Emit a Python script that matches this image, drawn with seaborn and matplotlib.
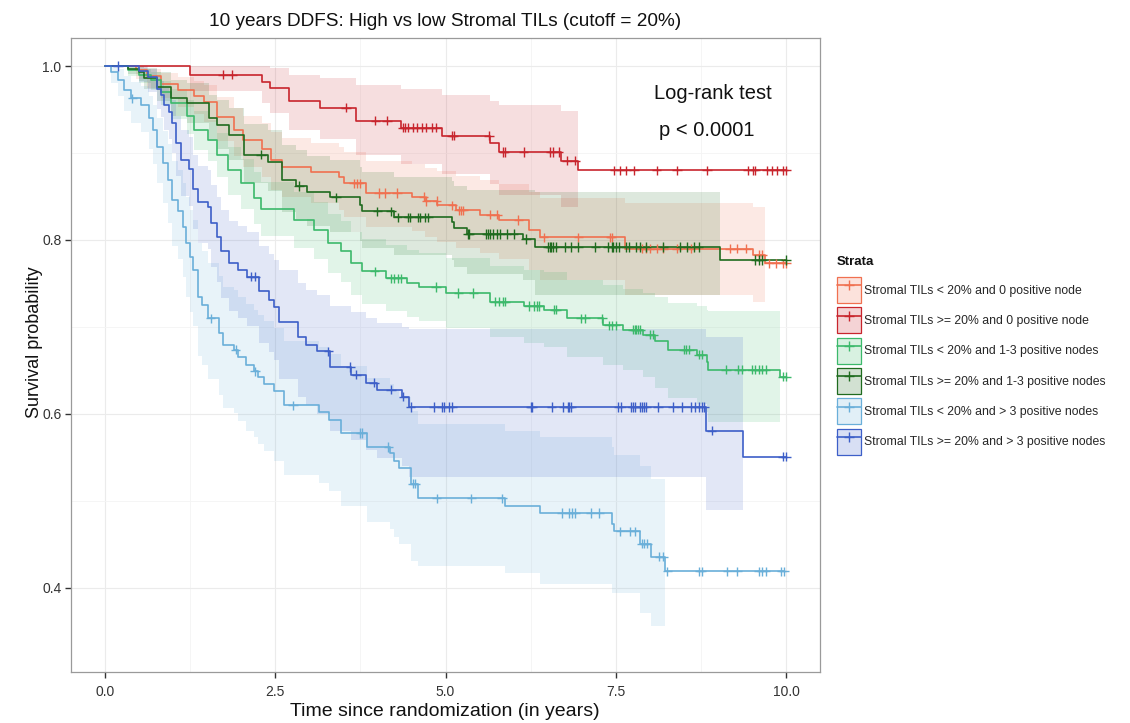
import numpy as np
import pandas as pd
import matplotlib
matplotlib.use("Agg")
import matplotlib.pyplot as plt
from matplotlib.patches import Patch
from matplotlib.lines import Line2D
from matplotlib.ticker import MultipleLocator
import seaborn as sns

# ---------------- data ----------------
strata = [
    "Stromal TILs < 20% and 0 positive node",
    "Stromal TILs >= 20% and 0 positive node",
    "Stromal TILs < 20% and 1-3 positive nodes",
    "Stromal TILs >= 20% and 1-3 positive nodes",
    "Stromal TILs < 20% and > 3 positive nodes",
    "Stromal TILs >= 20% and > 3 positive nodes",
]
colors = ["#F07050", "#C8252D", "#3CB96B", "#1F6B1F", "#6AAFD9", "#3D5FC8"]

# 1: < 20%, 0 node
t_lo0 = [0, 0.45, 0.62, 0.82, 1.07, 1.30, 1.46, 1.65, 1.89, 2.02, 2.31, 2.43, 2.60, 3.02, 3.43, 3.51,
         3.83, 4.51, 4.70, 4.88, 5.15, 5.51, 5.78, 6.22, 6.39, 7.64, 9.52, 9.69]
s_lo0 = [1.0, 0.995, 0.988, 0.979, 0.972, 0.966, 0.959, 0.941, 0.926, 0.915, 0.905, 0.892, 0.884, 0.878,
         0.872, 0.865, 0.854, 0.850, 0.845, 0.840, 0.834, 0.829, 0.823, 0.812, 0.803, 0.790, 0.783, 0.773]
l_lo0 = [1.0, 0.985, 0.975, 0.963, 0.953, 0.945, 0.936, 0.914, 0.897, 0.884, 0.872, 0.858, 0.849, 0.842,
         0.835, 0.827, 0.815, 0.810, 0.804, 0.798, 0.791, 0.785, 0.778, 0.765, 0.754, 0.737, 0.729, 0.715]
u_lo0 = [1.0, 1.0, 0.997, 0.992, 0.987, 0.983, 0.978, 0.964, 0.952, 0.943, 0.935, 0.924, 0.917, 0.912,
         0.907, 0.901, 0.891, 0.887, 0.883, 0.879, 0.874, 0.869, 0.864, 0.855, 0.848, 0.843, 0.838, 0.830]
c_lo0 = [3.65, 3.70, 3.74, 4.02, 4.11, 4.29, 4.68, 4.72, 4.87, 5.10, 5.20, 5.23, 5.26, 5.66, 5.76, 6.07,
         6.44, 6.95, 7.42, 7.44, 7.88, 7.95, 8.00, 8.10, 8.20, 8.40, 8.60, 9.18, 9.28, 9.42, 9.60, 9.65,
         9.75, 9.85, 9.95, 10.0]

# 2: >= 20%, 0 node
t_hi0 = [0, 1.25, 2.30, 2.42, 2.70, 3.15, 3.68, 4.34, 4.95, 5.66, 5.78, 6.70, 6.95]
s_hi0 = [1.0, 0.990, 0.982, 0.975, 0.960, 0.952, 0.937, 0.929, 0.920, 0.911, 0.901, 0.891, 0.880]
l_hi0 = [1.0, 0.971, 0.957, 0.946, 0.927, 0.916, 0.898, 0.887, 0.876, 0.864, 0.852, 0.838, 0.820]
u_hi0 = [1.0, 1.0, 1.0, 0.998, 0.990, 0.986, 0.978, 0.973, 0.967, 0.960, 0.955, 0.948, 0.940]
c_hi0 = [1.73, 1.87, 3.54, 3.97, 4.14, 4.37, 4.40, 4.45, 4.52, 4.58, 4.65, 4.72, 4.80, 4.86, 5.09, 5.12,
         5.64, 5.85, 5.87, 6.15, 6.54, 6.58, 6.66, 6.78, 6.90, 7.48, 7.57, 7.65, 7.77, 8.10, 8.40, 8.84,
         9.44, 9.52, 9.55, 9.72, 9.80, 9.87, 9.96, 10.0]

# 3: < 20%, 1-3 nodes
t_lo13 = [0, 0.33, 0.50, 0.67, 0.82, 0.97, 1.21, 1.31, 1.51, 1.65, 1.80, 2.00, 2.19, 2.29, 2.77, 3.07,
          3.27, 3.46, 3.61, 3.78, 4.12, 4.44, 4.61, 5.00, 5.66, 6.15, 6.44, 6.78, 7.32, 7.61, 7.90, 8.08,
          8.27, 8.69, 8.84, 8.86, 9.91]
s_lo13 = [1.0, 0.995, 0.990, 0.984, 0.970, 0.957, 0.942, 0.926, 0.915, 0.898, 0.880, 0.865, 0.848, 0.836,
          0.823, 0.811, 0.796, 0.787, 0.773, 0.764, 0.756, 0.750, 0.746, 0.739, 0.729, 0.724, 0.720, 0.710,
          0.702, 0.697, 0.691, 0.684, 0.674, 0.668, 0.660, 0.651, 0.643]
l_lo13 = [1.0, 0.988, 0.980, 0.972, 0.955, 0.939, 0.922, 0.904, 0.891, 0.872, 0.852, 0.836, 0.818, 0.805,
          0.791, 0.778, 0.762, 0.752, 0.737, 0.727, 0.718, 0.712, 0.707, 0.699, 0.688, 0.682, 0.677, 0.666,
          0.656, 0.650, 0.643, 0.630, 0.618, 0.611, 0.602, 0.591, 0.580]
u_lo13 = [1.0, 1.0, 0.997, 0.993, 0.983, 0.973, 0.961, 0.948, 0.938, 0.923, 0.907, 0.893, 0.878, 0.867,
          0.855, 0.844, 0.830, 0.822, 0.809, 0.801, 0.794, 0.788, 0.785, 0.779, 0.770, 0.766, 0.763, 0.754,
          0.748, 0.744, 0.739, 0.734, 0.728, 0.724, 0.720, 0.718, 0.710]
c_lo13 = [3.96, 4.20, 4.25, 4.30, 4.35, 4.86, 5.19, 5.41, 5.72, 5.78, 5.85, 5.88, 6.22, 6.30, 6.35, 6.38,
          6.60, 6.63, 6.99, 7.05, 7.30, 7.40, 7.45, 7.50, 7.75, 7.78, 7.80, 7.83, 7.86, 8.00, 8.05, 8.50,
          8.53, 8.58, 8.72, 8.76, 9.12, 9.30, 9.35, 9.50, 9.55, 9.60, 9.65, 9.70, 9.95, 10.0]

# 4: >= 20%, 1-3 nodes
t_hi13 = [0, 0.33, 0.50, 0.57, 0.77, 0.97, 1.21, 1.53, 1.65, 1.82, 2.04, 2.39, 2.60, 2.80, 2.97, 3.31,
          3.75, 3.78, 4.24, 5.10, 5.12, 5.32, 6.14, 6.32, 9.03]
s_hi13 = [1.0, 0.997, 0.993, 0.986, 0.976, 0.963, 0.957, 0.940, 0.932, 0.921, 0.898, 0.890, 0.869, 0.862,
          0.855, 0.849, 0.840, 0.833, 0.826, 0.821, 0.814, 0.807, 0.801, 0.792, 0.777]
l_hi13 = [1.0, 0.991, 0.983, 0.973, 0.960, 0.943, 0.935, 0.914, 0.905, 0.892, 0.866, 0.856, 0.832, 0.824,
          0.816, 0.809, 0.799, 0.791, 0.783, 0.777, 0.769, 0.761, 0.754, 0.737, 0.720]
u_hi13 = [1.0, 1.0, 1.0, 0.998, 0.993, 0.984, 0.980, 0.967, 0.961, 0.952, 0.933, 0.926, 0.909, 0.903,
          0.897, 0.892, 0.884, 0.878, 0.872, 0.868, 0.862, 0.857, 0.858, 0.855, 0.840]
c_hi13 = [2.29, 2.85, 3.39, 4.00, 4.20, 4.30, 4.45, 4.48, 4.60, 4.62, 4.70, 4.75, 5.33, 5.35, 5.60, 5.62,
          5.65, 5.70, 5.75, 5.80, 5.90, 6.00, 6.18, 6.50, 6.53, 6.55, 6.58, 6.62, 6.75, 6.85, 6.95, 7.20,
          7.38, 7.44, 7.46, 7.50, 7.55, 7.65, 7.70, 7.80, 7.85, 7.95, 8.20, 8.45, 8.55, 8.65, 8.72, 9.55,
          9.60, 9.65, 10.0]

# 5: < 20%, > 3 nodes
t_lo3 = [0, 0.09, 0.19, 0.28, 0.38, 0.53, 0.64, 0.70, 0.77, 0.85, 0.92, 0.99, 1.07, 1.14, 1.19, 1.25,
         1.29, 1.36, 1.43, 1.51, 1.68, 1.73, 1.90, 1.95, 2.07, 2.19, 2.24, 2.34, 2.48, 2.63, 3.14, 3.29,
         3.46, 3.85, 4.19, 4.25, 4.32, 4.49, 4.59, 5.88, 6.39, 7.44, 7.47, 7.85, 8.02, 8.23]
s_lo3 = [1.0, 0.993, 0.984, 0.972, 0.963, 0.955, 0.940, 0.926, 0.907, 0.888, 0.869, 0.846, 0.833, 0.815,
         0.796, 0.780, 0.766, 0.735, 0.725, 0.710, 0.693, 0.679, 0.674, 0.666, 0.656, 0.649, 0.643, 0.635,
         0.626, 0.610, 0.602, 0.593, 0.578, 0.562, 0.555, 0.546, 0.538, 0.520, 0.503, 0.494, 0.486, 0.474,
         0.465, 0.451, 0.436, 0.419]
l_lo3 = [1.0, 0.980, 0.965, 0.948, 0.935, 0.924, 0.905, 0.887, 0.865, 0.842, 0.820, 0.793, 0.778, 0.757,
         0.735, 0.717, 0.701, 0.667, 0.656, 0.640, 0.622, 0.607, 0.601, 0.592, 0.581, 0.573, 0.566, 0.557,
         0.546, 0.530, 0.521, 0.511, 0.494, 0.476, 0.468, 0.459, 0.450, 0.431, 0.425, 0.417, 0.405, 0.394,
         0.394, 0.371, 0.356, 0.340]
u_lo3 = [1.0, 1.0, 0.996, 0.988, 0.982, 0.977, 0.966, 0.955, 0.940, 0.925, 0.910, 0.891, 0.880, 0.865,
         0.849, 0.835, 0.823, 0.796, 0.787, 0.774, 0.759, 0.746, 0.742, 0.735, 0.726, 0.720, 0.714, 0.707,
         0.699, 0.684, 0.677, 0.669, 0.655, 0.641, 0.634, 0.626, 0.619, 0.603, 0.588, 0.580, 0.573, 0.562,
         0.553, 0.540, 0.525, 0.510]
c_lo3 = [0.40, 1.55, 1.92, 2.20, 2.76, 3.75, 3.78, 4.16, 4.52, 4.55, 4.87, 5.38, 5.83, 6.71, 6.81, 6.86,
         6.90, 7.13, 7.26, 7.57, 7.71, 7.79, 7.88, 7.92, 7.96, 8.14, 8.20, 8.26, 8.73, 8.76, 9.14, 9.28,
         9.60, 9.65, 9.70, 9.93, 9.97]

# 6: >= 20%, > 3 nodes
t_hi3 = [0, 0.50, 0.63, 0.77, 0.82, 0.87, 0.94, 0.99, 1.04, 1.11, 1.24, 1.29, 1.36, 1.51, 1.55, 1.65,
         1.70, 1.82, 1.95, 2.09, 2.26, 2.41, 2.48, 2.56, 2.83, 2.95, 3.12, 3.30, 3.61, 3.83, 4.00, 4.36,
         4.46, 8.83, 9.37]
s_hi3 = [1.0, 0.994, 0.987, 0.974, 0.967, 0.955, 0.947, 0.934, 0.911, 0.892, 0.882, 0.859, 0.844, 0.838,
         0.819, 0.804, 0.787, 0.773, 0.766, 0.758, 0.741, 0.731, 0.723, 0.706, 0.688, 0.679, 0.672, 0.654,
         0.645, 0.636, 0.628, 0.620, 0.608, 0.581, 0.551]
l_hi3 = [1.0, 0.982, 0.970, 0.951, 0.941, 0.926, 0.916, 0.900, 0.873, 0.851, 0.839, 0.813, 0.797, 0.790,
         0.769, 0.752, 0.733, 0.718, 0.710, 0.701, 0.682, 0.671, 0.662, 0.640, 0.620, 0.610, 0.600, 0.580,
         0.570, 0.559, 0.549, 0.540, 0.528, 0.490, 0.460]
u_hi3 = [1.0, 1.0, 0.997, 0.988, 0.983, 0.975, 0.970, 0.961, 0.943, 0.927, 0.918, 0.898, 0.885, 0.880,
         0.863, 0.850, 0.835, 0.822, 0.816, 0.809, 0.793, 0.784, 0.777, 0.765, 0.750, 0.743, 0.737, 0.724,
         0.717, 0.710, 0.705, 0.700, 0.698, 0.688, 0.660]
c_hi3 = [0.19, 2.14, 2.20, 3.28, 3.60, 3.69, 3.95, 4.20, 4.38, 4.49, 4.83, 4.95, 4.98, 5.05, 5.10, 6.25,
         6.27, 6.56, 6.73, 6.80, 6.82, 6.85, 7.54, 7.58, 7.73, 7.76, 7.79, 7.85, 7.88, 7.91, 7.95, 8.12,
         8.34, 8.47, 8.60, 8.67, 8.72, 8.76, 8.80, 8.91, 9.95, 10.0]

groups = [
    (t_lo0, s_lo0, l_lo0, u_lo0, c_lo0),
    (t_hi0, s_hi0, l_hi0, u_hi0, c_hi0),
    (t_lo13, s_lo13, l_lo13, u_lo13, c_lo13),
    (t_hi13, s_hi13, l_hi13, u_hi13, c_hi13),
    (t_lo3, s_lo3, l_lo3, u_lo3, c_lo3),
    (t_hi3, s_hi3, l_hi3, u_hi3, c_hi3),
]

x_ticks = [0.0, 2.5, 5.0, 7.5, 10.0]
y_ticks = [0.4, 0.6, 0.8, 1.0]

title = "10 years DDFS: High vs low Stromal TILs (cutoff = 20%)"
xlabel = "Time since randomization (in years)"
ylabel = "Survival probability"
legend_title = "Strata"

# ---------------- build tables ----------------
line_rows, cens_rows = [], []
for name, (t, s, lo, up, cens) in zip(strata, groups):
    t_end = max(cens)
    for ti, si in zip(list(t) + [t_end], list(s) + [s[-1]]):
        line_rows.append((name, ti, si))
    t_arr = np.asarray(t)
    s_arr = np.asarray(s)
    for c in cens:
        idx = np.searchsorted(t_arr, c, side="right") - 1
        cens_rows.append((name, c, s_arr[idx]))
lines_df = pd.DataFrame(line_rows, columns=["strata", "time", "surv"])
cens_df = pd.DataFrame(cens_rows, columns=["strata", "time", "surv"])
palette = dict(zip(strata, colors))

# ---------------- figure ----------------
sns.set_theme(style="white")
plt.rcParams["font.family"] = ["Liberation Sans", "DejaVu Sans"]

fig = plt.figure(figsize=(11.3, 7.23), dpi=100)
ax = fig.add_axes([71 / 1130, 1 - 672 / 723, (820 - 71) / 1130, (672 - 38) / 723])

# confidence bands
for name, (t, s, lo, up, cens) in zip(strata, groups):
    ax.fill_between(t, lo, up, step="post", color=palette[name], alpha=0.15, lw=0, zorder=1)

sns.lineplot(data=lines_df, x="time", y="surv", hue="strata", palette=palette,
             estimator=None, sort=False, drawstyle="steps-post", linewidth=1.2,
             legend=False, ax=ax, zorder=3)
sns.scatterplot(data=cens_df, x="time", y="surv", hue="strata", palette=palette,
                marker="+", s=45, linewidth=1.0, legend=False, ax=ax, zorder=4)

ax.set_xlim(-0.5, 10.5)
ax.set_ylim(0.3034, 1.0322)
ax.set_xticks(x_ticks)
ax.set_xticklabels([f"{v:.1f}" for v in x_ticks])
ax.set_yticks(y_ticks)
ax.set_yticklabels([f"{v:.1f}" for v in y_ticks])
ax.xaxis.set_minor_locator(MultipleLocator(1.25))
ax.yaxis.set_minor_locator(MultipleLocator(0.1))
ax.grid(which="major", color="#EBEBEB", lw=0.8)
ax.grid(which="minor", color="#F4F4F4", lw=0.6)
ax.set_axisbelow(True)
ax.tick_params(which="major", direction="out", length=4, width=1.0, color="#333333",
               labelsize=10, labelcolor="#333333", bottom=True, left=True)
ax.tick_params(axis="x", pad=5)
ax.tick_params(axis="y", pad=3)
ax.tick_params(which="minor", length=0)
for sp in ax.spines.values():
    sp.set_color("#9A9A9A")
    sp.set_linewidth(0.9)
ax.set_xlabel("")
ax.set_ylabel("")

ax.text(8.93, 0.968, "Log-rank test", ha="center", va="center", fontsize=14.5, color="#111111")
ax.text(8.83, 0.926, "p < 0.0001", ha="center", va="center", fontsize=14.5, color="#111111")

fig.text(445 / 1130, 1 - 22 / 723, title, ha="center", va="center", fontsize=13.7, color="#111111")
fig.text(445 / 1130, 1 - 711 / 723, xlabel, ha="center", va="center", fontsize=14, color="#111111")
fig.text(35 / 1130, 1 - 342 / 723, ylabel, ha="center", va="center", rotation=90, fontsize=13,
         color="#111111")

# legend
fig.text(837 / 1130, 1 - 262 / 723, legend_title, ha="left", va="center", fontsize=9.5,
         fontweight="bold", color="#111111")
handles = []
for name in strata:
    c = palette[name]
    rgba = matplotlib.colors.to_rgba(c, 0.2)
    patch = Patch(facecolor=rgba, edgecolor=c, linewidth=0.9)
    ln = Line2D([], [], color=c, lw=1.2, marker="+", markersize=7, markeredgewidth=1.0)
    handles.append((patch, ln))
leg = fig.legend(handles, strata, loc="upper left", bbox_to_anchor=(837 / 1130, 1 - 277 / 723),
                 frameon=False, fontsize=8.8,
                 handlelength=1.95, handleheight=2.9, labelspacing=0.35, handletextpad=0.3,
                 borderpad=0.0, borderaxespad=0.0)

fig.savefig("out.png", dpi=100)
